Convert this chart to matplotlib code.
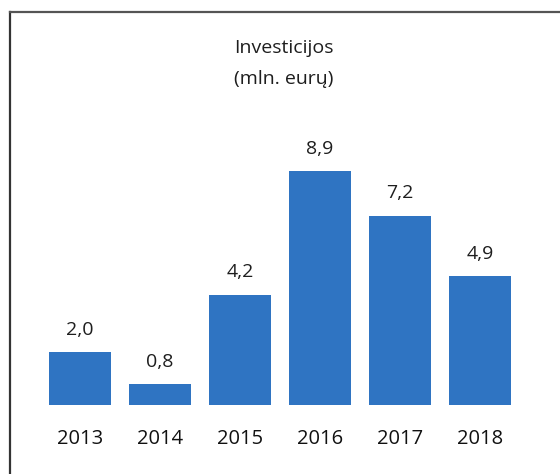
import numpy as np
from matplotlib import pyplot as plt
from matplotlib.lines import Line2D

years = ["2013", "2014", "2015", "2016", "2017", "2018"]
values = [2.0, 0.8, 4.2, 8.9, 7.2, 4.9]
value_labels = ["2,0", "0,8", "4,2", "8,9", "7,2", "4,9"]

plt.rcParams['font.family'] = ['Open Sans', 'DejaVu Sans']

fig = plt.figure(figsize=(5.6, 4.74), dpi=100)
ax = fig.add_axes([40/560, 69/474, 480/560, 275/474])

x = np.arange(len(years))
ax.bar(x, values, width=0.775, color="#2f74c2")
for xi, v, lab in zip(x, values, value_labels):
    ax.text(xi, v + 0.5, lab, ha="center", va="bottom", fontsize=14, color="#1e1e1e")

ax.set_xlim(-0.5, len(years) - 0.5)
ax.set_ylim(0, 275 / 26.3)
ax.set_xticks(x)
ax.set_xticklabels(years, fontsize=14.5, color="#111111", fontweight="medium")
ax.tick_params(axis="x", length=0, pad=17)
ax.set_yticks([])
for s in ax.spines.values():
    s.set_visible(False)

# title
fig.text(284/560, 1 - 48/474, "Investicijos", ha="center", va="center", fontsize=14, color="#1e1e1e")
fig.text(284/560, 1 - 79/474, "(mln. eurų)", ha="center", va="center", fontsize=14, color="#1e1e1e")

# frame (left and top edges of the scanned box)
fig.add_artist(Line2D([10/560, 10/560], [0, 1 - 12/474], transform=fig.transFigure, color="#333333", lw=1.6))
fig.add_artist(Line2D([10/560, 1], [1 - 12/474, 1 - 12/474], transform=fig.transFigure, color="#555555", lw=1.6))

fig.savefig("out.png", dpi=100)
